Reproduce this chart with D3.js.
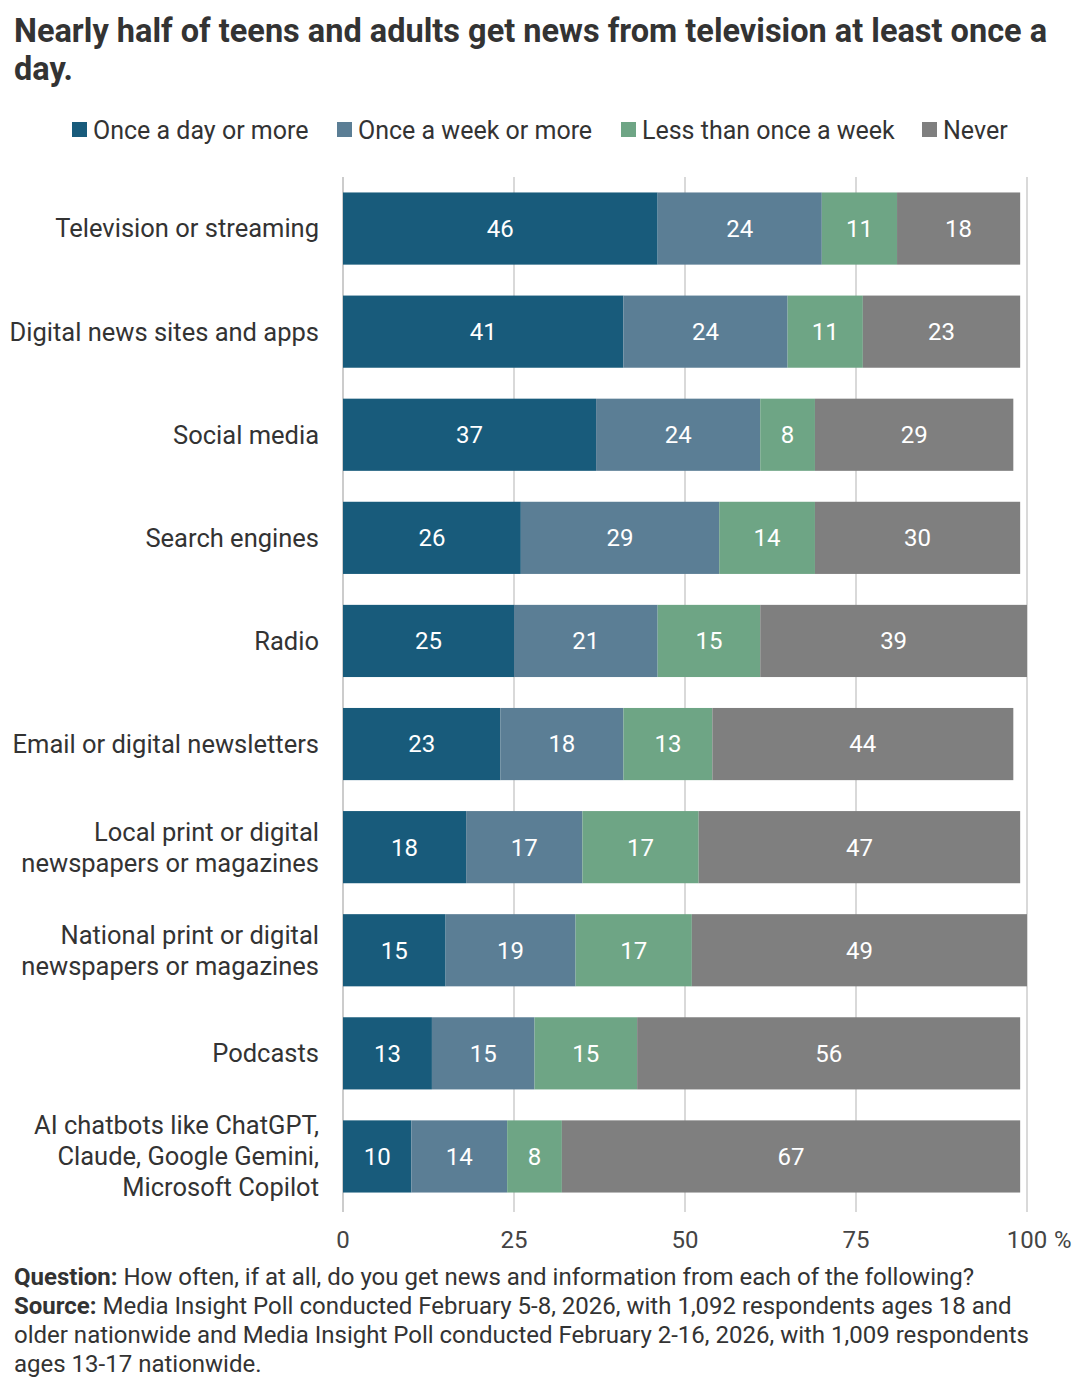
<!DOCTYPE html>
<html>
<head>
<meta charset="utf-8">
<script src="https://cdn.jsdelivr.net/npm/d3@7"></script>
<style>
  body { margin: 0; background: #fff; font-family: Roboto, "Noto Sans", sans-serif; }
</style>
</head>
<body>
<div id="chart"></div>
<script>
const categories = [
  "Television or streaming",
  "Digital news sites and apps",
  "Social media",
  "Search engines",
  "Radio",
  "Email or digital newsletters",
  "Local print or digital\nnewspapers or magazines",
  "National print or digital\nnewspapers or magazines",
  "Podcasts",
  "AI chatbots like ChatGPT,\nClaude, Google Gemini,\nMicrosoft Copilot"
];
const seriesNames = ["Once a day or more", "Once a week or more", "Less than once a week", "Never"];
const daily  = [46, 41, 37, 26, 25, 23, 18, 15, 13, 10];
const weekly = [24, 24, 24, 29, 21, 18, 17, 19, 15, 14];
const less   = [11, 11, 8, 14, 15, 13, 17, 17, 15, 8];
const never  = [18, 23, 29, 30, 39, 44, 47, 49, 56, 67];
const ticks = [0, 25, 50, 75, 100];
const colors = ["#185b7b", "#5b7e95", "#6ea585", "#7f7f7f"];

const W = 1080, H = 1385;
const svg = d3.select("#chart").append("svg").attr("width", W).attr("height", H);

// title
svg.append("text").attr("x", 14).attr("y", 42)
  .attr("font-size", 32.5).attr("font-weight", 700).attr("fill", "#333")
  .selectAll("tspan").data(["Nearly half of teens and adults get news from television at least once a", "day."])
  .join("tspan").attr("x", 14).attr("dy", (d, i) => i ? 38 : 0).text(d => d);

// legend
const legendX = [72, 337, 621, 922];
const lg = svg.append("g").selectAll("g").data(seriesNames).join("g")
  .attr("transform", (d, i) => `translate(${legendX[i]},130)`);
lg.append("rect").attr("y", -8).attr("width", 15).attr("height", 15).attr("fill", (d, i) => colors[i]);
lg.append("text").attr("x", 21).attr("dy", "0.35em").attr("font-size", 25).attr("fill", "#333").text(d => d);

const x = d3.scaleLinear().domain([0, 100]).range([343, 1027]);
const y = d3.scaleBand().domain(categories).range([177, 1208]).paddingInner(0.3).paddingOuter(0.15);

// grid
svg.append("g").selectAll("line").data(ticks.slice(1)).join("line")
  .attr("x1", d => x(d)).attr("x2", d => x(d)).attr("y1", 177).attr("y2", 1212)
  .attr("stroke", "#d9d9d9").attr("stroke-width", 2);
svg.append("line").attr("x1", x(0)).attr("x2", x(0)).attr("y1", 177).attr("y2", 1212)
  .attr("stroke", "#bbb").attr("stroke-width", 1.5);

const rows = categories.map((c, i) => ({ c, vals: [daily[i], weekly[i], less[i], never[i]] }));
const stacked = d3.stack().keys([0, 1, 2, 3]).value((d, k) => d.vals[k])(rows);

stacked.forEach((layer, k) => {
  const g = svg.append("g");
  g.selectAll("rect").data(layer).join("rect")
    .attr("x", d => x(d[0])).attr("width", d => x(d[1]) - x(d[0]))
    .attr("y", d => y(d.data.c)).attr("height", y.bandwidth())
    .attr("fill", colors[k]);
  g.selectAll("text").data(layer).join("text")
    .attr("x", d => (x(d[0]) + x(d[1])) / 2).attr("y", d => y(d.data.c) + y.bandwidth() / 2)
    .attr("dy", "0.35em").attr("text-anchor", "middle").attr("font-size", 24).attr("fill", "#fff")
    .text(d => d.data.vals[k]);
});

// category labels
svg.append("g").selectAll("text").data(categories).join("text")
  .attr("text-anchor", "end").attr("font-size", 25.5).attr("fill", "#333")
  .each(function(d) {
    const lines = d.split("\n");
    const cy = y(d) + y.bandwidth() / 2;
    d3.select(this).selectAll("tspan").data(lines).join("tspan")
      .attr("x", 319).attr("y", (l, i) => cy + (i - (lines.length - 1) / 2) * (lines.length > 2 ? 31 : 31))
      .attr("dy", "0.35em").text(l => l);
  });

// x axis labels
svg.append("g").selectAll("text").data(ticks).join("text")
  .attr("x", d => x(d)).attr("y", 1240).attr("dy", "0.35em")
  .attr("text-anchor", "middle").attr("font-size", 24).attr("fill", "#444")
  .text(d => d);
svg.append("text").attr("x", x(100) + 27).attr("y", 1240).attr("dy", "0.35em")
  .attr("font-size", 24).attr("fill", "#444").text("%");

// footer
const foot = [
  [["Question: ", true], ["How often, if at all, do you get news and information from each of the following?", false]],
  [["Source: ", true], ["Media Insight Poll conducted February 5-8, 2026, with 1,092 respondents ages 18 and", false]],
  [["older nationwide and Media Insight Poll conducted February 2-16, 2026, with 1,009 respondents", false]],
  [["ages 13-17 nationwide.", false]]
];
foot.forEach((line, i) => {
  const t = svg.append("text").attr("x", 14).attr("y", 1285 + i * 29).attr("font-size", 24).attr("fill", "#333");
  line.forEach(([s, b]) => t.append("tspan").attr("font-weight", b ? 700 : 400).text(s));
});
</script>
</body>
</html>
